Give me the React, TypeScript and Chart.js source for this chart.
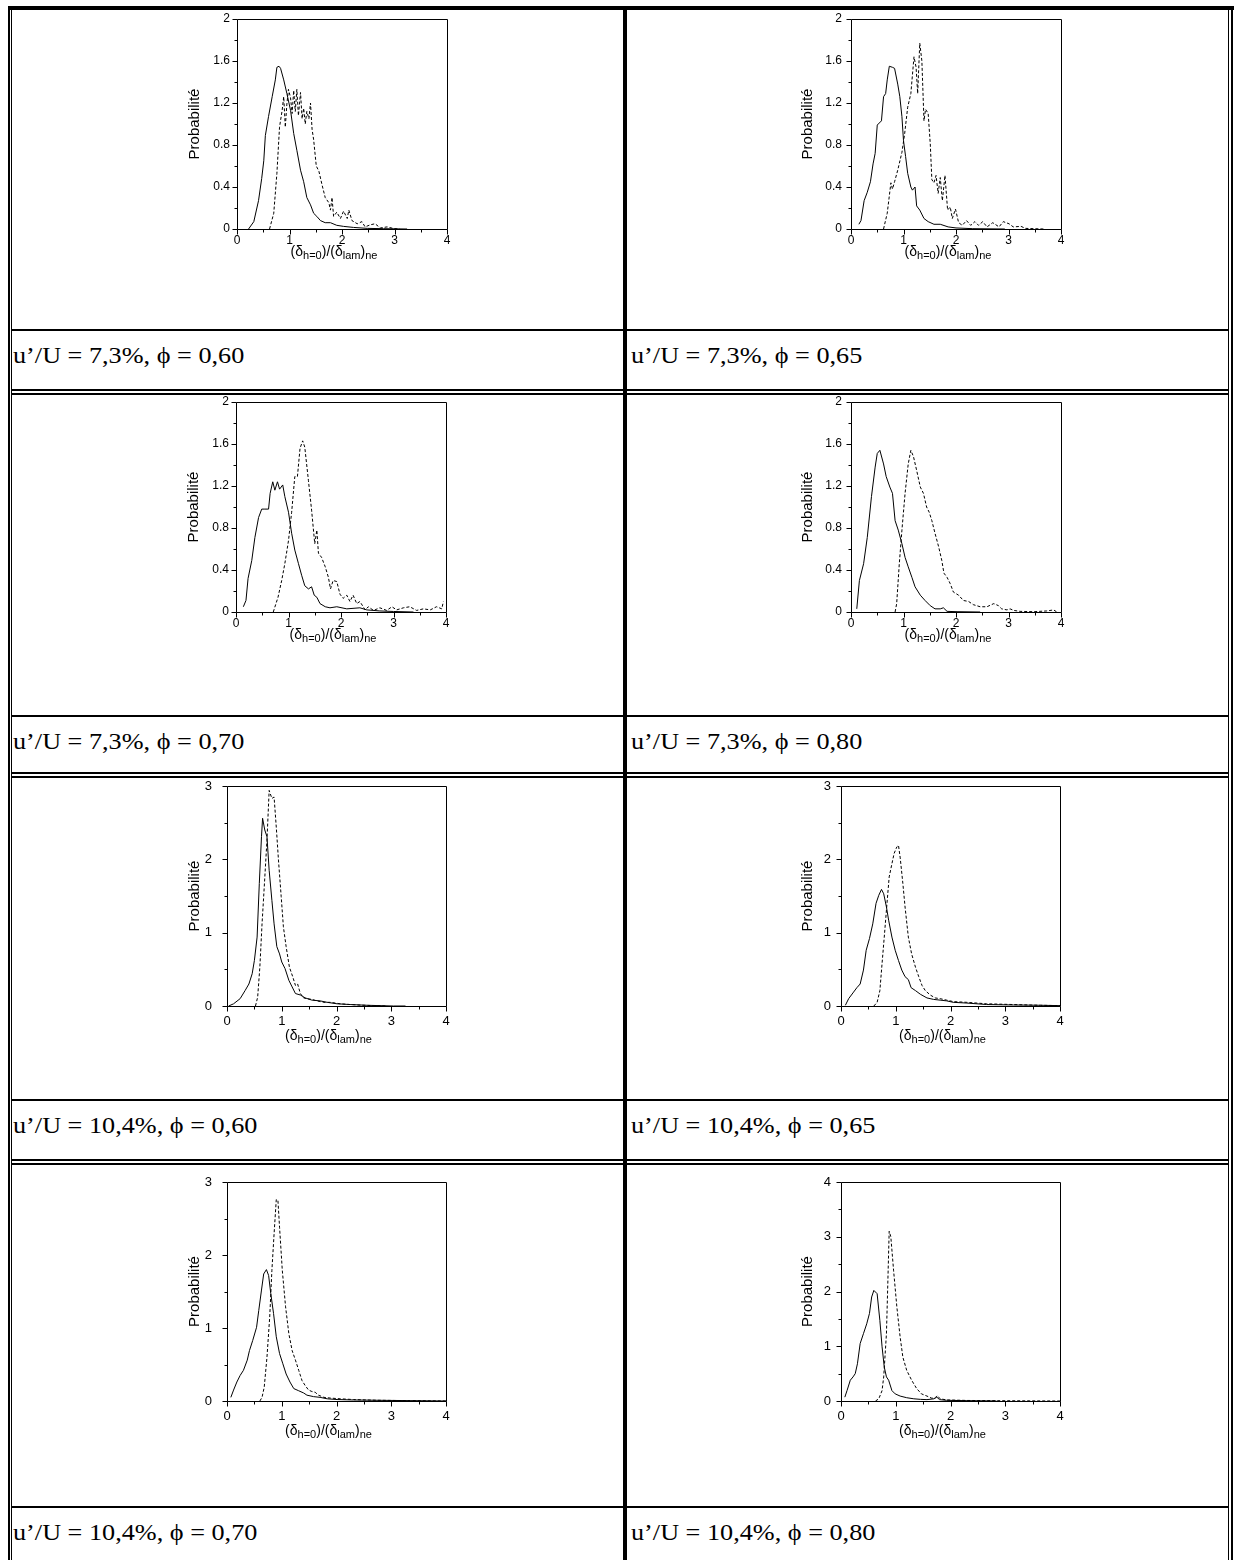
import React, { useEffect, useRef } from "react";
import { Chart, registerables } from "chart.js";

Chart.register(...registerables);

type Pt = [number, number];

// ---------- data (x = (δh=0)/(δlam)ne , y = Probabilité) ----------
const c1Solid: Pt[] = [[0.22,0],[0.32,0.07],[0.41,0.27],[0.47,0.48],[0.51,0.65],[0.54,0.89],[0.60,1.07],[0.67,1.26],[0.73,1.42],[0.76,1.54],[0.80,1.55],[0.83,1.53],[0.89,1.42],[0.95,1.29],[1.02,1.13],[1.08,0.91],[1.14,0.75],[1.21,0.56],[1.27,0.45],[1.33,0.30],[1.40,0.23],[1.46,0.15],[1.52,0.12],[1.59,0.08],[1.68,0.06],[1.78,0.06],[1.90,0.035],[2.03,0.025],[2.22,0.015],[2.48,0.006],[2.79,0.003],[3.24,0]];
const c1Dashed: Pt[] = [[0.62,0],[0.70,0.15],[0.76,0.53],[0.81,0.97],[0.86,1.13],[0.89,1.26],[0.92,0.97],[0.95,1.19],[0.98,1.33],[1.02,1.25],[1.05,1.10],[1.08,1.32],[1.11,1.12],[1.14,1.33],[1.17,1.08],[1.21,1.30],[1.24,1.05],[1.27,1.15],[1.30,1.00],[1.33,1.12],[1.37,1.05],[1.40,1.20],[1.43,0.95],[1.46,0.85],[1.51,0.60],[1.56,0.55],[1.62,0.42],[1.68,0.30],[1.75,0.25],[1.78,0.18],[1.81,0.30],[1.84,0.12],[1.90,0.16],[1.97,0.10],[2.03,0.17],[2.10,0.10],[2.13,0.18],[2.19,0.08],[2.29,0.05],[2.38,0.07],[2.44,0.02],[2.54,0.04],[2.63,0.05],[2.73,0.01],[2.86,0.02],[2.98,0.005],[3.10,0]];

const c2Solid: Pt[] = [[0.15,0.045],[0.19,0.08],[0.25,0.27],[0.31,0.35],[0.37,0.45],[0.42,0.62],[0.46,0.72],[0.50,0.99],[0.58,1.03],[0.62,1.26],[0.66,1.29],[0.69,1.42],[0.73,1.55],[0.79,1.54],[0.83,1.53],[0.89,1.38],[0.93,1.26],[0.97,1.07],[1.00,0.84],[1.04,0.69],[1.08,0.53],[1.14,0.40],[1.17,0.37],[1.22,0.40],[1.25,0.22],[1.31,0.18],[1.39,0.10],[1.47,0.07],[1.58,0.045],[1.70,0.045],[1.85,0.02],[2.00,0.01],[2.32,0.003],[2.93,0]];
const c2Dashed: Pt[] = [[0.62,0],[0.69,0.15],[0.76,0.44],[0.79,0.38],[0.83,0.45],[0.89,0.56],[0.97,0.73],[1.02,0.90],[1.08,1.16],[1.14,1.29],[1.20,1.64],[1.24,1.54],[1.27,1.29],[1.31,1.77],[1.35,1.60],[1.39,1.03],[1.42,1.14],[1.47,1.10],[1.51,0.81],[1.54,0.47],[1.58,0.44],[1.62,0.51],[1.66,0.34],[1.70,0.49],[1.74,0.27],[1.79,0.51],[1.84,0.18],[1.89,0.21],[1.93,0.10],[1.99,0.19],[2.05,0.06],[2.12,0.035],[2.20,0.08],[2.28,0.035],[2.36,0.07],[2.43,0.035],[2.51,0.07],[2.59,0.02],[2.70,0.06],[2.82,0.02],[2.90,0.07],[3.01,0.05],[3.09,0.02],[3.24,0.025],[3.32,0.006],[3.67,0]];

const c3Solid: Pt[] = [[0.14,0.05],[0.19,0.11],[0.23,0.32],[0.30,0.49],[0.36,0.71],[0.43,0.90],[0.49,0.98],[0.55,0.98],[0.62,0.98],[0.65,1.13],[0.70,1.24],[0.74,1.16],[0.79,1.24],[0.83,1.17],[0.89,1.21],[0.93,1.10],[1.00,0.95],[1.06,0.75],[1.12,0.59],[1.19,0.46],[1.25,0.35],[1.31,0.25],[1.38,0.22],[1.44,0.24],[1.49,0.16],[1.54,0.14],[1.60,0.08],[1.70,0.05],[1.79,0.04],[1.92,0.05],[2.11,0.03],[2.36,0.04],[2.49,0.02],[2.74,0.01],[3.00,0.005],[3.38,0]];
const c3Dashed: Pt[] = [[0.71,0],[0.80,0.14],[0.87,0.30],[0.93,0.46],[1.00,0.68],[1.06,0.95],[1.12,1.29],[1.17,1.29],[1.22,1.56],[1.27,1.63],[1.31,1.57],[1.38,1.25],[1.44,0.97],[1.50,0.65],[1.54,0.78],[1.57,0.56],[1.63,0.52],[1.70,0.43],[1.76,0.33],[1.80,0.22],[1.85,0.30],[1.92,0.29],[1.98,0.17],[2.04,0.13],[2.11,0.16],[2.17,0.10],[2.23,0.16],[2.30,0.08],[2.36,0.10],[2.46,0.02],[2.52,0.05],[2.62,0.015],[2.74,0.04],[2.87,0.015],[2.97,0.05],[3.06,0.02],[3.19,0.04],[3.31,0.05],[3.44,0.015],[3.57,0.03],[3.70,0.02],[3.82,0.05],[3.92,0.03],[3.95,0.10]];

const c4Solid: Pt[] = [[0.11,0.03],[0.16,0.30],[0.24,0.46],[0.31,0.71],[0.39,1.10],[0.46,1.38],[0.50,1.51],[0.55,1.54],[0.62,1.41],[0.67,1.29],[0.74,1.19],[0.79,1.13],[0.84,0.87],[0.90,0.78],[0.97,0.65],[1.03,0.52],[1.09,0.43],[1.16,0.33],[1.22,0.24],[1.32,0.16],[1.41,0.11],[1.51,0.06],[1.60,0.03],[1.70,0.03],[1.76,0.04],[1.83,0.006],[2.02,0.003],[2.46,0]];
const c4Dashed: Pt[] = [[0.84,0],[0.87,0.08],[0.92,0.46],[0.97,0.78],[1.03,1.13],[1.09,1.41],[1.14,1.54],[1.19,1.48],[1.25,1.35],[1.32,1.19],[1.38,1.13],[1.44,1.00],[1.49,0.95],[1.54,0.87],[1.60,0.75],[1.67,0.62],[1.73,0.49],[1.77,0.37],[1.83,0.33],[1.89,0.27],[1.95,0.19],[2.05,0.16],[2.14,0.11],[2.24,0.10],[2.33,0.07],[2.46,0.05],[2.59,0.05],[2.72,0.08],[2.81,0.06],[2.87,0.03],[2.97,0.02],[3.03,0.03],[3.10,0.015],[3.22,0.006],[3.48,0.003],[3.73,0.01],[3.86,0.02],[3.92,0]];

const c5Solid: Pt[] = [[0.03,0],[0.12,0.03],[0.24,0.10],[0.33,0.21],[0.40,0.30],[0.46,0.44],[0.50,0.62],[0.55,0.94],[0.59,1.67],[0.63,2.31],[0.65,2.56],[0.69,2.40],[0.73,2.31],[0.77,1.85],[0.82,1.44],[0.86,1.12],[0.91,0.81],[0.96,0.71],[1.00,0.60],[1.06,0.51],[1.13,0.35],[1.19,0.26],[1.25,0.17],[1.34,0.15],[1.43,0.11],[1.55,0.08],[1.70,0.07],[1.83,0.05],[2.01,0.03],[2.25,0.02],[2.56,0.01],[3.04,0],[3.26,0]];
const c5Dashed: Pt[] = [[0.52,0],[0.56,0.12],[0.60,0.53],[0.64,1.12],[0.68,1.62],[0.73,2.26],[0.77,2.94],[0.82,2.83],[0.86,2.85],[0.90,2.44],[0.94,1.99],[0.99,1.49],[1.03,1.08],[1.08,0.81],[1.14,0.53],[1.20,0.40],[1.25,0.28],[1.29,0.30],[1.34,0.17],[1.40,0.11],[1.46,0.10],[1.55,0.09],[1.64,0.07],[1.77,0.05],[1.89,0.05],[2.07,0.03],[2.25,0.02],[2.44,0.012],[2.68,0.005],[2.92,0]];

const c6Solid: Pt[] = [[0.08,0.01],[0.14,0.10],[0.23,0.19],[0.29,0.25],[0.35,0.30],[0.41,0.49],[0.46,0.76],[0.52,0.92],[0.58,1.12],[0.64,1.40],[0.69,1.51],[0.74,1.59],[0.78,1.53],[0.83,1.35],[0.87,1.17],[0.93,0.94],[0.99,0.76],[1.05,0.62],[1.11,0.49],[1.17,0.40],[1.23,0.36],[1.28,0.25],[1.36,0.21],[1.45,0.16],[1.57,0.11],[1.69,0.09],[1.81,0.08],[1.93,0.07],[2.05,0.05],[2.30,0.04],[2.66,0.02],[3.15,0.014],[3.64,0.01],[4.00,0.005]];
const c6Dashed: Pt[] = [[0.60,0],[0.66,0.05],[0.71,0.21],[0.75,0.58],[0.79,0.94],[0.84,1.40],[0.88,1.76],[0.93,1.94],[0.97,2.08],[1.02,2.17],[1.05,2.19],[1.08,2.03],[1.13,1.67],[1.17,1.35],[1.23,0.94],[1.29,0.71],[1.36,0.53],[1.42,0.40],[1.48,0.28],[1.54,0.21],[1.63,0.15],[1.72,0.11],[1.81,0.10],[1.93,0.08],[2.05,0.06],[2.30,0.05],[2.66,0.03],[3.15,0.02],[3.64,0.01],[4.00,0.005]];

const c7Solid: Pt[] = [[0.07,0.05],[0.12,0.15],[0.18,0.26],[0.24,0.35],[0.30,0.42],[0.37,0.56],[0.41,0.69],[0.47,0.83],[0.54,1.01],[0.58,1.24],[0.63,1.52],[0.67,1.74],[0.72,1.80],[0.76,1.72],[0.80,1.47],[0.85,1.20],[0.90,0.88],[0.96,0.65],[1.02,0.51],[1.08,0.37],[1.15,0.26],[1.22,0.17],[1.31,0.14],[1.40,0.11],[1.46,0.08],[1.58,0.06],[1.70,0.05],[1.83,0.03],[2.01,0.02],[2.31,0.014],[2.74,0.01],[3.35,0.005],[4.00,0]];
const c7Dashed: Pt[] = [[0.60,0],[0.64,0.05],[0.68,0.19],[0.73,0.60],[0.78,1.15],[0.82,1.79],[0.86,2.29],[0.90,2.76],[0.93,2.75],[0.96,2.38],[1.01,1.79],[1.07,1.29],[1.13,0.92],[1.19,0.69],[1.25,0.56],[1.31,0.42],[1.37,0.28],[1.43,0.21],[1.49,0.15],[1.55,0.13],[1.61,0.12],[1.67,0.08],[1.77,0.05],[1.89,0.04],[2.07,0.03],[2.31,0.02],[2.74,0.01],[3.35,0.005],[4.00,0]];

const c8Solid: Pt[] = [[0.07,0.07],[0.11,0.19],[0.17,0.38],[0.22,0.44],[0.26,0.50],[0.30,0.68],[0.35,1.05],[0.41,1.23],[0.47,1.41],[0.52,1.60],[0.56,1.90],[0.60,2.02],[0.66,1.96],[0.71,1.47],[0.75,0.99],[0.79,0.62],[0.83,0.44],[0.87,0.38],[0.93,0.19],[0.99,0.13],[1.08,0.09],[1.20,0.06],[1.33,0.04],[1.45,0.03],[1.57,0.025],[1.70,0.04],[1.75,0.07],[1.80,0.025],[1.93,0.012],[2.30,0.006],[2.84,0]];
const c8Dashed: Pt[] = [[0.63,0],[0.69,0.04],[0.75,0.19],[0.78,0.44],[0.83,1.23],[0.85,1.96],[0.88,3.10],[0.91,3.00],[0.96,2.39],[1.02,1.72],[1.08,1.17],[1.13,0.80],[1.20,0.56],[1.29,0.38],[1.38,0.23],[1.47,0.13],[1.57,0.09],[1.66,0.05],[1.72,0.06],[1.76,0.10],[1.81,0.04],[1.93,0.02],[2.30,0.01],[2.84,0.006],[3.45,0.003],[4.00,0]];

const captions = [
  "u’/U = 7,3%, ϕ = 0,60",
  "u’/U = 7,3%, ϕ = 0,65",
  "u’/U = 7,3%, ϕ = 0,70",
  "u’/U = 7,3%, ϕ = 0,80",
  "u’/U = 10,4%, ϕ = 0,60",
  "u’/U = 10,4%, ϕ = 0,65",
  "u’/U = 10,4%, ϕ = 0,70",
  "u’/U = 10,4%, ϕ = 0,80",
];
const yTitle = "Probabilité";
const xMax = 4;
const xMajor = 1;
const xMinor = 0.5;

// ---------- layout ----------
type Panel = {
  L: number; T: number; W: number; H: number;
  yMax: number; yMajor: number; yMinor: number;
  solid: Pt[]; dashed: Pt[];
  font: number; yPad: number; titlePad: number; xPad: number; xTitleTop: number;
};
const panels: Panel[] = [
  { L: 237, T: 19, W: 210, H: 210, yMax: 2, yMajor: 0.4, yMinor: 0.2, solid: c1Solid, dashed: c1Dashed, font: 12, yPad: 7, titlePad: 5, xPad: 4, xTitleTop: 13 },
  { L: 851, T: 19, W: 210, H: 210, yMax: 2, yMajor: 0.4, yMinor: 0.2, solid: c2Solid, dashed: c2Dashed, font: 12, yPad: 9, titlePad: 4, xPad: 4, xTitleTop: 13 },
  { L: 236, T: 402, W: 210, H: 210, yMax: 2, yMajor: 0.4, yMinor: 0.2, solid: c3Solid, dashed: c3Dashed, font: 12, yPad: 7, titlePad: 5, xPad: 4, xTitleTop: 13 },
  { L: 851, T: 402, W: 210, H: 210, yMax: 2, yMajor: 0.4, yMinor: 0.2, solid: c4Solid, dashed: c4Dashed, font: 12, yPad: 9, titlePad: 4, xPad: 4, xTitleTop: 13 },
  { L: 227, T: 786, W: 219, H: 220, yMax: 3, yMajor: 1, yMinor: 0.5, solid: c5Solid, dashed: c5Dashed, font: 13, yPad: 15, titlePad: 15, xPad: 8, xTitleTop: 20 },
  { L: 841, T: 786, W: 219, H: 220, yMax: 3, yMajor: 1, yMinor: 0.5, solid: c6Solid, dashed: c6Dashed, font: 13, yPad: 10, titlePad: 14, xPad: 8, xTitleTop: 20 },
  { L: 227, T: 1182, W: 219, H: 219, yMax: 3, yMajor: 1, yMinor: 0.5, solid: c7Solid, dashed: c7Dashed, font: 13, yPad: 15, titlePad: 15, xPad: 8, xTitleTop: 20 },
  { L: 841, T: 1182, W: 219, H: 219, yMax: 4, yMajor: 1, yMinor: 0.5, solid: c8Solid, dashed: c8Dashed, font: 13, yPad: 10, titlePad: 14, xPad: 8, xTitleTop: 20 },
];
const captionLineY = [329, 715, 1099, 1506];
const doubleLineY = [389, 393, 772, 776, 1159, 1163];

// canvas padding around the plot area (large enough to hold Chart.js label padding)
const PAD_L = 4, Y_BOX = 56, PAD_T = 30, PAD_R = 20, X_BOX = 34, PAD_B = 4;
const FONT = "'Liberation Sans', Arial, sans-serif";

const frameTicks = {
  id: "frameTicks",
  afterDraw(chart: any, _args: any, opts: any) {
    const { ctx, chartArea: a, scales } = chart;
    const xs = scales.x, ys = scales.y;
    ctx.save();
    ctx.strokeStyle = "#000";
    ctx.lineWidth = 1;
    const l = Math.round(a.left) + 0.5, t = Math.round(a.top) + 0.5;
    const r = Math.round(a.right) + 0.5, b = Math.round(a.bottom) + 0.5;
    ctx.beginPath();
    ctx.moveTo(l, t); ctx.lineTo(r, t); ctx.lineTo(r, b); ctx.lineTo(l, b); ctx.closePath();
    const isMajor = (v: number, step: number) => Math.abs(v / step - Math.round(v / step)) < 1e-6;
    for (let i = 0; i * xMinor <= xMax + 1e-9; i++) {
      const v = i * xMinor;
      const px = Math.round(xs.getPixelForValue(v)) + 0.5;
      const len = isMajor(v, xMajor) ? 5 : 3;
      ctx.moveTo(px, b); ctx.lineTo(px, b + len);
    }
    for (let i = 0; i * opts.yMinor <= opts.yMax + 1e-9; i++) {
      const v = i * opts.yMinor;
      const py = Math.round(ys.getPixelForValue(v)) + 0.5;
      const len = isMajor(v, opts.yMajor) ? 5 : 3;
      ctx.moveTo(l, py); ctx.lineTo(l - len, py);
    }
    ctx.stroke();
    ctx.restore();
  },
};

const fmt = (v: any) => String(Math.round(Number(v) * 10) / 10);

function PlotPanel({ p }: { p: Panel }) {
  const ref = useRef<HTMLCanvasElement>(null);
  const cw = PAD_L + Y_BOX + p.W + PAD_R;
  const ch = PAD_T + p.H + X_BOX + PAD_B;
  useEffect(() => {
    const tickFont = { family: FONT, size: p.font };
    const chart = new Chart(ref.current as HTMLCanvasElement, {
      type: "scatter",
      data: {
        datasets: [
          {
            data: p.solid.map(([x, y]) => ({ x, y })),
            showLine: true, borderColor: "#000", borderWidth: 1, pointRadius: 0, tension: 0,
          },
          {
            data: p.dashed.map(([x, y]) => ({ x, y })),
            showLine: true, borderColor: "#000", borderWidth: 1, borderDash: [3, 2], pointRadius: 0, tension: 0,
          },
        ],
      },
      options: {
        responsive: false,
        animation: false,
        devicePixelRatio: 1,
        layout: { padding: { left: PAD_L, top: PAD_T, right: PAD_R, bottom: PAD_B } },
        plugins: {
          legend: { display: false },
          tooltip: { enabled: false },
          frameTicks: { yMax: p.yMax, yMajor: p.yMajor, yMinor: p.yMinor },
        } as any,
        scales: {
          x: {
            type: "linear", min: 0, max: xMax,
            grid: { display: false, drawTicks: false, tickLength: 0 },
            border: { display: false },
            ticks: { stepSize: xMajor, padding: p.xPad, color: "#000", font: tickFont, maxRotation: 0, callback: fmt },
            afterFit: (s: any) => { s.height = X_BOX; },
          },
          y: {
            type: "linear", min: 0, max: p.yMax,
            grid: { display: false, drawTicks: false, tickLength: 0 },
            border: { display: false },
            ticks: { stepSize: p.yMajor, padding: p.yPad, color: "#000", font: tickFont, callback: fmt },
            title: {
              display: true, text: yTitle, color: "#000",
              font: { family: FONT, size: 15 },
              padding: { top: p.titlePad, bottom: 0 },
            },
            afterFit: (s: any) => { s.width = Y_BOX; },
          },
        },
      } as any,
      plugins: [frameTicks as any],
    });
    return () => chart.destroy();
  }, []);
  const cx = p.L + p.W / 2 - 8;
  const sub = { fontSize: 11, verticalAlign: -3 };
  return (
    <>
      <canvas
        ref={ref}
        width={cw}
        height={ch}
        style={{ position: "absolute", left: p.L - PAD_L - Y_BOX, top: p.T - PAD_T, width: cw, height: ch }}
      />
      <div
        style={{
          position: "absolute", left: cx - 80, width: 160, top: p.T + p.H + p.xTitleTop, textAlign: "center",
          fontFamily: FONT, fontSize: 14, lineHeight: "18px", color: "#000",
          whiteSpace: "nowrap",
        }}
      >
        (δ<span style={sub}>h=0</span>)/(δ<span style={sub}>lam</span>)<span style={sub}>ne</span>
      </div>
    </>
  );
}

function Bar({ x, y, w, h }: { x: number; y: number; w: number; h: number }) {
  return <div style={{ position: "absolute", left: x, top: y, width: w, height: h, background: "#000" }} />;
}

export default function App() {
  useEffect(() => {
    document.body.style.margin = "0";
    document.body.style.background = "#fff";
  }, []);
  return (
    <div style={{ position: "absolute", left: 0, top: 0, width: 1234, height: 1560, overflow: "hidden", background: "#fff" }}>
      {panels.map((p, i) => <PlotPanel key={i} p={p} />)}
      {/* table borders */}
      <Bar x={8} y={6} w={1226} h={4} />
      <Bar x={8} y={6} w={2} h={1554} />
      <Bar x={11} y={10} w={1} h={1550} />
      <Bar x={623} y={6} w={4} h={1554} />
      <Bar x={1228} y={10} w={1} h={1550} />
      <Bar x={1231} y={6} w={2} h={1554} />
      {captionLineY.map((y) => <Bar key={"c" + y} x={11} y={y} w={1218} h={2} />)}
      {doubleLineY.map((y) => <Bar key={"d" + y} x={11} y={y} w={1218} h={2} />)}
      {captions.map((c, i) => {
        const row = Math.floor(i / 2);
        const col = i % 2;
        return (
          <div
            key={"t" + i}
            style={{
              position: "absolute", left: col === 0 ? 13 : 631, top: captionLineY[row] + 15,
              fontFamily: "'Liberation Serif', 'Times New Roman', serif", fontSize: 23, lineHeight: "23px",
              color: "#000", whiteSpace: "nowrap", transform: "scaleX(1.14)", transformOrigin: "left top",
            }}
          >
            {c}
          </div>
        );
      })}
    </div>
  );
}
